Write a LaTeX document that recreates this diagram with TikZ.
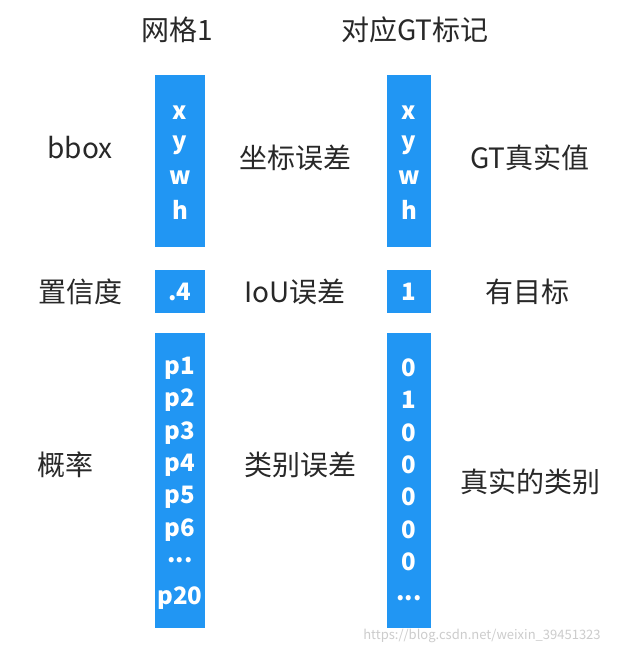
\documentclass[tikz,border=0pt]{standalone}
\usepackage{fontspec}
\setmainfont{Noto Sans CJK SC}
\definecolor{bar}{RGB}{33,150,243}
\definecolor{txt}{RGB}{40,40,40}
\newcommand{\mydots}{...}
\begin{document}
\begin{tikzpicture}[x=1pt,y=-1pt,
  bt/.style={text=white,font=\fontsize{24}{24}\selectfont\bfseries},
  lab/.style={text=txt,font=\fontsize{28}{28}\selectfont}]
\useasboundingbox[fill=white] (0,0) rectangle (623,655);
\fill[bar] (155,75) rectangle (205,247);
\fill[bar] (155,270) rectangle (205,313);
\fill[bar] (155,333) rectangle (205,628);
\fill[bar] (387,75) rectangle (431,247);
\fill[bar] (387,270) rectangle (431,313);
\fill[bar] (387,333) rectangle (431,628);
\node[lab] (t1) at (177,30) {网格1};
\node[lab] (t2) at (415,30) {对应GT标记};
\node[lab] (l1) at (80,148) {bbox};
\node[lab] (m1) at (295,158) {坐标误差};
\node[lab] (r1) at (530,158) {GT真实值};
\node[lab] (l2) at (80,292) {置信度};
\node[lab] (m2) at (295,292) {IoU误差};
\node[lab] (r2) at (527,292) {有目标};
\node[lab] (l3) at (65,465) {概率};
\node[lab] (m3) at (300,465) {类别误差};
\node[lab] (r3) at (530,482) {真实的类别};
\foreach \t/\y [count=\i] in {x/113,y/145,w/178,h/210}{
  \node[bt] (a\i) at (180,\y) {\t};
  \node[bt] (b\i) at (409,\y) {\t};}
\node[bt] (c) at (180,292) {.4};
\node[bt] (d) at (409,292) {1};
\foreach \t/\y [count=\i] in {p1/368,p2/400,p3/433,p4/465,p5/497,p6/530,\mydots/560,p20/598}{
  \node[bt] (p\i) at (180,\y) {\t};}
\foreach \t/\y [count=\i] in {0/368,1/400,0/433,0/465,0/497,0/530,0/562,\mydots/598}{
  \node[bt] (q\i) at (409,\y) {\t};}
\node[text=white!60!gray,font=\fontsize{13}{13}\selectfont] (wm) at (482,636) {https://blog.csdn.net/weixin\_39451323};
\end{tikzpicture}
\end{document}
